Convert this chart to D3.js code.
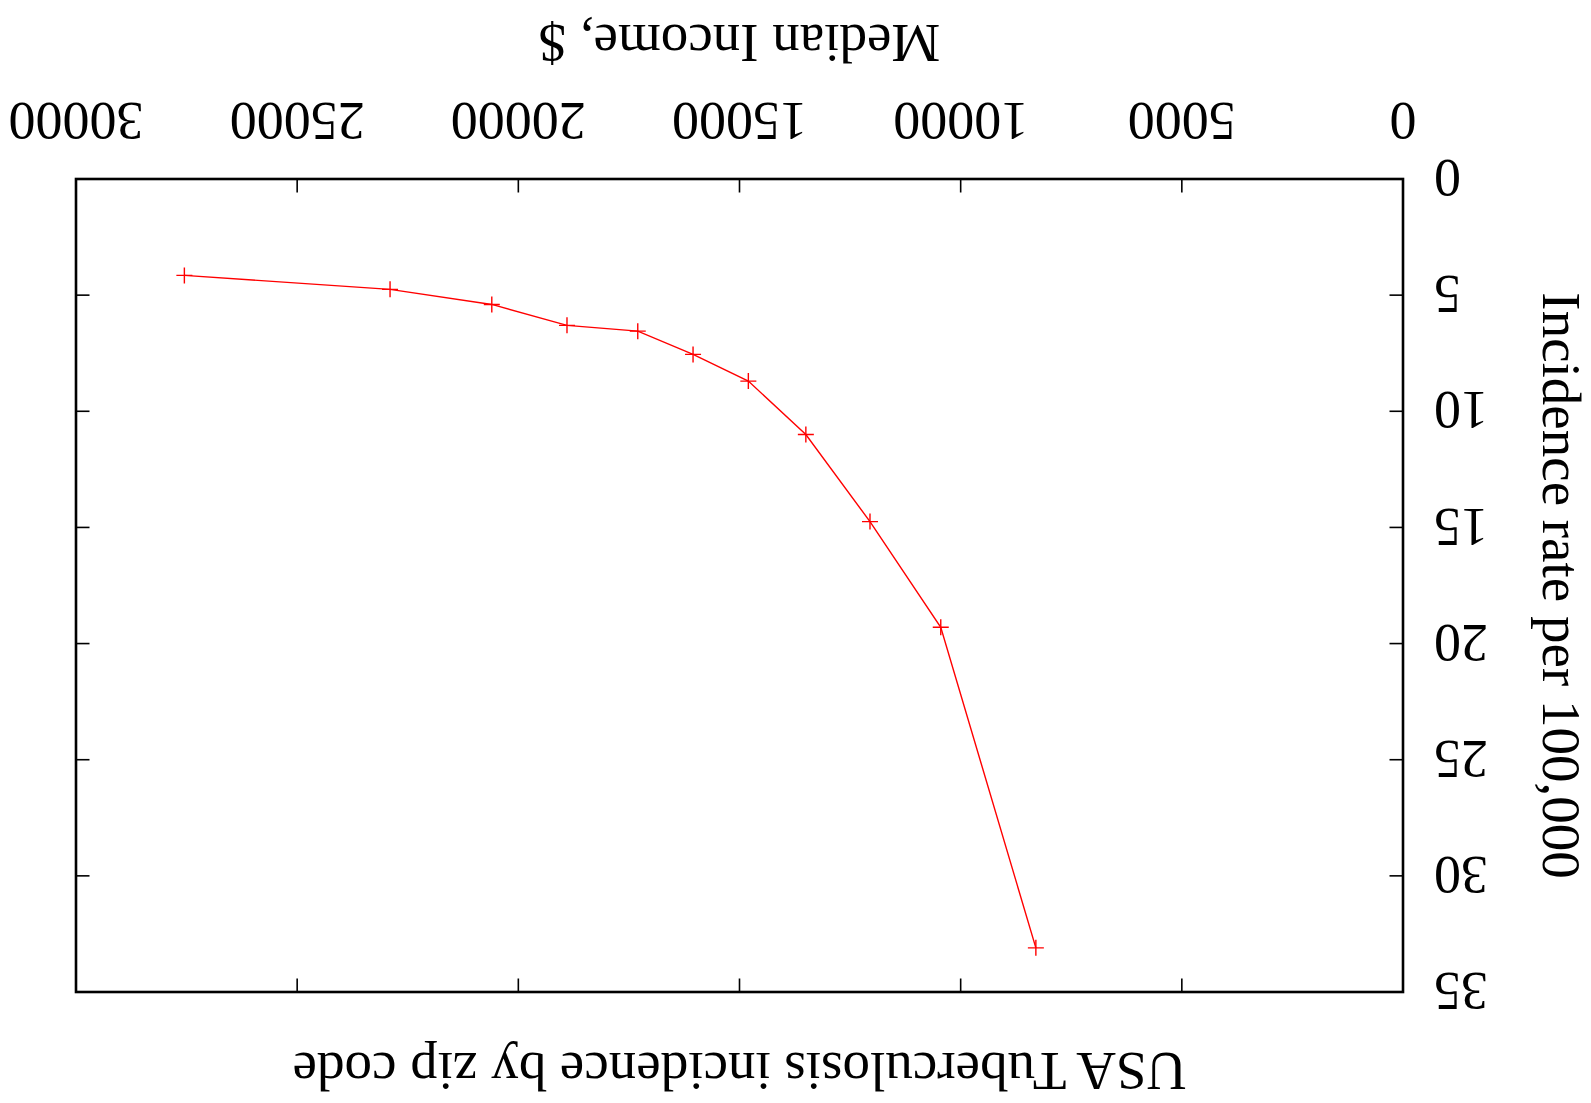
<!DOCTYPE html>
<html>
<head>
<meta charset="utf-8">
<script src="https://cdn.jsdelivr.net/npm/d3@7"></script>
<style>
  body { margin: 0; background: #fff; }
  text { font-family: "Liberation Serif", "DejaVu Serif", serif; fill: #000; }
</style>
</head>
<body>
<script>
// data
var income = [27550, 22900, 20600, 18900, 17300, 16050, 14800, 13500, 12050, 10450, 8300];
var incidence = [4.15, 4.75, 5.4, 6.3, 6.55, 7.55, 8.7, 11.0, 14.75, 19.3, 33.1];
var xTicks = [0, 5000, 10000, 15000, 20000, 25000, 30000];
var yTicks = [0, 5, 10, 15, 20, 25, 30, 35];

var W = 1591, H = 1103;
// plot box in the unrotated frame
var margin = {top: 111, right: 76, bottom: 179, left: 188};

var svg = d3.select("body").append("svg")
    .attr("width", W)
    .attr("height", H);

// the whole chart is drawn upside down
var g = svg.append("g")
    .attr("transform", "rotate(180," + W/2 + "," + H/2 + ")");

var x = d3.scaleLinear().domain([0, 30000]).range([margin.left, W - margin.right]);
var y = d3.scaleLinear().domain([0, 35]).range([H - margin.bottom, margin.top]);

var tick = 13.5;

//ticks on all four sides, pointing in
g.selectAll(".xt").data(xTicks.slice(1, -1)).enter().append("g").attr("class", "xt")
    .each(function(d) {
        var s = d3.select(this);
        s.append("line").attr("x1", x(d)).attr("x2", x(d))
            .attr("y1", y(0)).attr("y2", y(0) - tick);
        s.append("line").attr("x1", x(d)).attr("x2", x(d))
            .attr("y1", y(35)).attr("y2", y(35) + tick);
    })
    .selectAll("line").attr("stroke", "#000").attr("stroke-width", 1.6);

g.selectAll(".yt").data(yTicks.slice(1, -1)).enter().append("g").attr("class", "yt")
    .each(function(d) {
        var s = d3.select(this);
        s.append("line").attr("y1", y(d)).attr("y2", y(d))
            .attr("x1", x(0)).attr("x2", x(0) + tick);
        s.append("line").attr("y1", y(d)).attr("y2", y(d))
            .attr("x1", x(30000)).attr("x2", x(30000) - tick);
    })
    .selectAll("line").attr("stroke", "#000").attr("stroke-width", 1.6);

// tick labels
g.selectAll(".xl").data(xTicks).enter().append("text")
    .attr("class", "xl")
    .attr("x", function(d) { return x(d); })
    .attr("y", y(0) + 57)
    .attr("dy", "0.35em")
    .attr("text-anchor", "middle")
    .style("font-size", "54px")
    .text(function(d) { return d; });

g.selectAll(".yl").data(yTicks).enter().append("text")
    .attr("class", "yl")
    .attr("x", x(0) - 31)
    .attr("y", function(d) { return y(d); })
    .attr("dy", "0.35em")
    .attr("text-anchor", "end")
    .style("font-size", "54px")
    .text(function(d) { return d; });

// frame
g.append("rect")
    .attr("x", x(0)).attr("y", y(35))
    .attr("width", x(30000) - x(0)).attr("height", y(0) - y(35))
    .attr("fill", "none").attr("stroke", "#000").attr("stroke-width", 2.6);

// the line
var pts = income.map(function(d, i) { return [d, incidence[i]]; });
var line = d3.line().x(function(d) { return x(d[0]); }).y(function(d) { return y(d[1]); });

g.append("path")
    .datum(pts)
    .attr("d", line)
    .attr("fill", "none")
    .attr("stroke", "#ff0000")
    .attr("stroke-width", 1.4);

var ps = 8;
g.selectAll(".pt").data(pts).enter().append("path")
    .attr("class", "pt")
    .attr("d", function(d) {
        var cx = x(d[0]), cy = y(d[1]);
        return "M" + (cx - ps) + "," + cy + "H" + (cx + ps) + "M" + cx + "," + (cy - ps) + "V" + (cy + ps);
    })
    .attr("stroke", "#ff0000")
    .attr("stroke-width", 1.4);

// titles
g.append("text")
    .attr("x", (x(0) + x(30000)) / 2)
    .attr("y", 31)
    .attr("dy", "0.35em")
    .attr("text-anchor", "middle")
    .style("font-size", "55px")
    .text("USA Tuberculosis incidence by zip code");

g.append("text")
    .attr("x", (x(0) + x(30000)) / 2)
    .attr("y", 1059)
    .attr("dy", "0.35em")
    .attr("text-anchor", "middle")
    .style("font-size", "55px")
    .text("Median Income, $");

g.append("text")
    .attr("transform", "translate(29," + (y(0) + y(35)) / 2 + ") rotate(-90)")
    .attr("dy", "0.35em")
    .attr("text-anchor", "middle")
    .style("font-size", "55px")
    .text("Incidence rate per 100,000");
</script>
</body>
</html>
